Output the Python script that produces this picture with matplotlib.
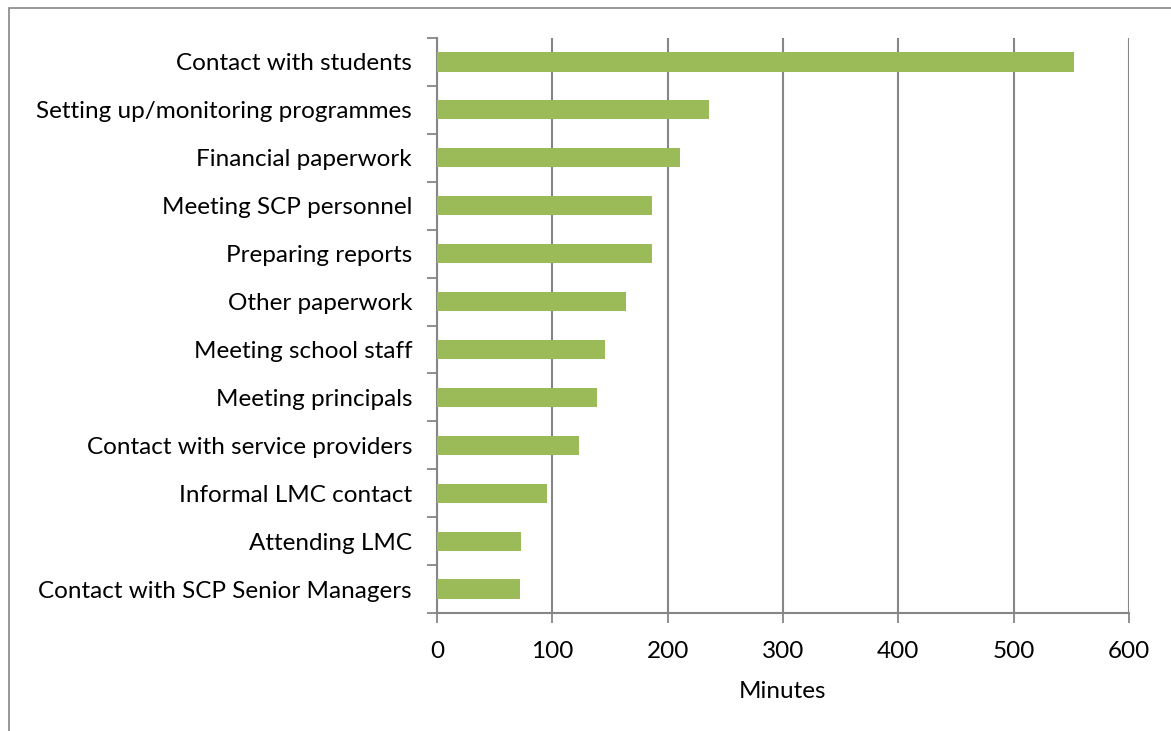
import matplotlib.pyplot as plt
import numpy as np
from matplotlib.patches import Rectangle

activities = ['Contact with students', 'Setting up/monitoring programmes', 'Financial paperwork',
              'Meeting SCP personnel', 'Preparing reports', 'Other paperwork',
              'Meeting school staff', 'Meeting principals', 'Contact with service providers',
              'Informal LMC contact', 'Attending LMC', 'Contact with SCP Senior Managers']
minutes = [552, 236, 211, 186, 186, 164, 146, 139, 123, 95, 73, 72]

plt.rcParams['font.family'] = ['Lato', 'DejaVu Sans']
grey = '#868686'

fig = plt.figure(figsize=(11.71, 7.31), dpi=100)
ax = fig.add_axes([0.3732, 0.1614, 0.5909, 0.7866])

y = np.arange(len(activities))[::-1]
ax.barh(y, minutes, height=0.4, color='#9BBB59', zorder=3)

ax.set_xlim(0, 600)
ax.set_ylim(-0.5, len(activities) - 0.5)
ax.set_xticks(np.arange(0, 601, 100))
ax.set_yticks(y)
ax.set_yticklabels(activities)
ax.set_yticks(np.arange(-0.5, len(activities)), minor=True)
ax.tick_params(axis='y', which='major', length=0, pad=18, labelsize=17.5)
ax.tick_params(axis='y', which='minor', length=7, color=grey, width=1.3)
ax.tick_params(axis='x', length=7, color=grey, width=1.3, labelsize=17.5, pad=13)
ax.grid(axis='x', color=grey, linewidth=1.5, zorder=0)
for s in ['top', 'right']:
    ax.spines[s].set_visible(False)
for s in ['left', 'bottom']:
    ax.spines[s].set_color(grey)
    ax.spines[s].set_linewidth(1.5)
ax.set_xlabel('Minutes', fontsize=17.5, labelpad=14)

# outer chart frame
fig.patches.append(Rectangle((9 / 1171, -0.05), 1.2, 1 - 8 / 731 + 0.05, transform=fig.transFigure,
                             fill=False, edgecolor=grey, linewidth=1.2))

fig.savefig('out.png', dpi=100)
